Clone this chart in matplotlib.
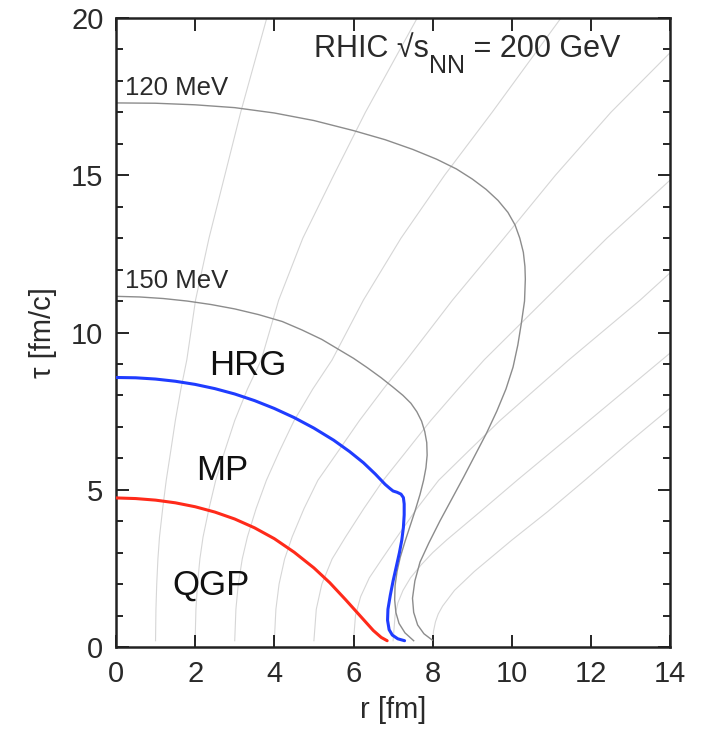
import matplotlib

matplotlib.use("Agg")
import matplotlib.pyplot as plt
from matplotlib.ticker import MultipleLocator

plt.rcParams["font.family"] = ["Liberation Sans", "DejaVu Sans"]

# fluid-cell trajectories, labelled by starting radius r0 [fm]
FLOW_R0 = [1, 2, 3, 4, 5, 6, 7, 8]
TAU_INNER = [0.2, 1.2, 2.0, 2.8, 3.5, 4.4, 5.3, 6.2, 7.2, 8.2, 9.13, 11.03, 13.0, 15.0, 17.0, 20.0]
flow_r1 = [1.0, 1.01, 1.03, 1.06, 1.1, 1.18, 1.27, 1.38, 1.5, 1.64, 1.79, 2.01, 2.35, 2.75, 3.15, 3.81]
flow_r2 = [2.0, 2.02, 2.06, 2.12, 2.2, 2.35, 2.52, 2.74, 3.0, 3.32, 3.67, 4.11, 4.72, 5.5, 6.3, 7.61]
flow_r3 = [3.0, 3.03, 3.09, 3.19, 3.32, 3.54, 3.8, 4.12, 4.5, 4.97, 5.46, 6.25, 7.2, 8.3, 9.5, 11.24]
flow_tau4 = [0.2, 1.2, 2.0, 2.8, 3.5, 4.4, 5.3, 6.2, 7.2, 8.2, 9.13, 11.03, 13.0, 15.0, 17.0, 18.9]
flow_r4 = [4.0, 4.04, 4.12, 4.26, 4.45, 4.75, 5.1, 5.6, 6.15, 6.75, 7.34, 8.5, 9.8, 11.1, 12.5, 14.0]
flow_tau5 = [0.2, 1.2, 2.0, 2.8, 3.5, 4.4, 5.3, 6.2, 7.2, 8.2, 9.13, 11.03, 13.0, 14.85]
flow_r5 = [5.0, 5.06, 5.2, 5.46, 5.8, 6.26, 6.75, 7.32, 7.95, 8.64, 9.3, 10.82, 12.4, 14.0]
flow_tau6 = [0.2, 1.0, 1.6, 2.2, 2.8, 3.5, 4.4, 5.3, 6.2, 7.2, 8.2, 9.13, 11.03, 11.9]
flow_r6 = [6.0, 6.05, 6.18, 6.4, 6.72, 7.1, 7.6, 8.15, 8.88, 9.7, 10.6, 11.44, 13.24, 14.0]
flow_tau7 = [0.2, 1.0, 1.4, 1.8, 2.2, 2.6, 3.0, 3.4, 4.3, 5.31, 7.2, 9.35]
flow_r7 = [7.0, 7.05, 7.12, 7.25, 7.44, 7.7, 8.0, 8.35, 9.2, 10.14, 11.95, 14.0]
flow_tau8 = [0.2, 0.5, 0.8, 1.05, 1.3, 1.8, 2.4, 3.4, 4.3, 5.31, 6.5, 7.6]
flow_r8 = [8.0, 8.02, 8.07, 8.14, 8.25, 8.55, 9.05, 10.0, 10.9, 11.85, 12.95, 14.0]

# isotherms T = 120 MeV and 150 MeV
iso120_r = [0, 1.0, 2.0, 3.0, 4.0, 5.0, 6.0, 6.8, 7.5, 8.1, 8.6, 9.0, 9.35, 9.65, 9.9,
            10.08, 10.2, 10.29, 10.33, 10.34, 10.32, 10.24, 10.15, 10.03, 9.85, 9.62, 9.36,
            9.07, 8.78, 8.48, 8.18, 7.9, 7.68, 7.55, 7.49, 7.52, 7.62, 7.78, 7.99]
iso120_tau = [17.3, 17.29, 17.24, 17.15, 16.98, 16.74, 16.42, 16.13, 15.82, 15.51, 15.2, 14.88,
              14.55, 14.2, 13.82, 13.42, 13.0, 12.55, 12.1, 11.7, 11.0, 10.3, 9.6, 8.9, 8.2,
              7.5, 6.8, 6.1, 5.4, 4.7, 4.0, 3.3, 2.7, 2.1, 1.55, 1.1, 0.7, 0.42, 0.22]
iso150_r = [0, 0.6, 1.2, 1.8, 2.4, 3.0, 3.6, 4.2, 4.7, 5.2, 5.6, 6.0, 6.35, 6.7, 7.0, 7.25,
            7.45, 7.6, 7.72, 7.8, 7.85, 7.86, 7.83, 7.77, 7.68, 7.56, 7.43, 7.3, 7.18, 7.1,
            7.05, 7.04, 7.07, 7.15, 7.3, 7.52]
iso150_tau = [11.15, 11.13, 11.08, 11.0, 10.89, 10.75, 10.57, 10.35, 10.08, 9.78, 9.48, 9.18,
              8.88, 8.56, 8.26, 8.0, 7.75, 7.48, 7.18, 6.85, 6.5, 6.1, 5.7, 5.3, 4.85, 4.35,
              3.85, 3.35, 2.85, 2.4, 1.95, 1.5, 1.1, 0.75, 0.45, 0.2]

# phase boundaries: HRG / MP (blue) and MP / QGP (red)
hrg_r = [0, 0.5, 1.0, 1.5, 2.0, 2.5, 3.0, 3.5, 4.0, 4.5, 5.0, 5.5, 5.9, 6.25, 6.55, 6.8,
         6.92, 7.0, 7.1, 7.2, 7.26, 7.28, 7.28, 7.26, 7.22, 7.16, 7.08, 7.0, 6.93, 6.87,
         6.86, 6.9, 6.98, 7.12, 7.29]
hrg_tau = [8.57, 8.56, 8.52, 8.45, 8.35, 8.215, 8.045, 7.835, 7.585, 7.295, 6.96, 6.575,
           6.215, 5.86, 5.5, 5.17, 5.04, 4.96, 4.92, 4.86, 4.75, 4.55, 4.2, 3.8, 3.4, 3.0,
           2.55, 2.1, 1.65, 1.2, 0.85, 0.55, 0.38, 0.26, 0.2]
qgp_r = [0, 0.5, 1.0, 1.5, 2.0, 2.5, 3.0, 3.5, 4.0, 4.5, 5.0, 5.4, 5.8, 6.2, 6.5, 6.7, 6.85]
qgp_tau = [4.74, 4.72, 4.67, 4.585, 4.46, 4.29, 4.07, 3.79, 3.445, 3.015, 2.515, 2.045,
           1.505, 0.945, 0.525, 0.305, 0.2]

flows = [
    (flow_r1, TAU_INNER), (flow_r2, TAU_INNER), (flow_r3, TAU_INNER),
    (flow_r4, flow_tau4), (flow_r5, flow_tau5), (flow_r6, flow_tau6),
    (flow_r7, flow_tau7), (flow_r8, flow_tau8),
]

fig = plt.figure(figsize=(7.07, 7.38), dpi=100)
ax = fig.add_axes([0.164, 0.1233, 0.784, 0.8523])

for r, tau in flows:
    ax.plot(r, tau, color="#d6d6d6", lw=0.8, zorder=1)

ax.plot(iso120_r, iso120_tau, color="#8c8c8c", lw=1.0, zorder=2)
ax.plot(iso150_r, iso150_tau, color="#8c8c8c", lw=1.0, zorder=2)
ax.plot(hrg_r, hrg_tau, color="#1f3cff", lw=2.2, zorder=3, solid_capstyle="round")
ax.plot(qgp_r, qgp_tau, color="#ff2a1a", lw=2.2, zorder=3, solid_capstyle="round")

txt = "#2a2a2a"
ax.text(0.23, 17.55, "120 MeV", fontsize=18.5, color=txt)
ax.text(0.23, 11.4, "150 MeV", fontsize=18.5, color=txt)
ax.text(2.35, 8.65, "HRG", fontsize=25, color="#111111")
ax.text(2.03, 5.31, "MP", fontsize=25, color="#111111")
ax.text(1.43, 1.65, "QGP", fontsize=25, color="#111111")

# "RHIC √s_NN = 200 GeV" built from pieces so the subscript can sit low and large
t1 = ax.text(5.0, 18.75, "RHIC √s", fontsize=22, color=txt)
t2 = ax.annotate("NN", xy=(1, 0), xycoords=t1, xytext=(0.5, -9.5), textcoords="offset points",
                 fontsize=18, color=txt, va="bottom")
ax.annotate(" = 200 GeV", xy=(1, 0), xycoords=t2, xytext=(0, 9.5), textcoords="offset points",
            fontsize=22, color=txt, va="bottom")

ax.set_xlim(0, 14)
ax.set_ylim(0, 20)
ax.set_xticks(range(0, 15, 2))
ax.set_yticks(range(0, 21, 5))
ax.yaxis.set_minor_locator(MultipleLocator(1))
ax.tick_params(which="both", direction="in", top=True, right=True, width=1.2,
               labelsize=21, labelcolor=txt, pad=9)
ax.tick_params(which="major", length=9)
ax.tick_params(which="minor", length=5)
for spine in ax.spines.values():
    spine.set_linewidth(1.8)
    spine.set_color("#222222")

ax.set_xlabel("r [fm]", fontsize=21, color=txt, labelpad=6)
ax.set_ylabel("τ [fm/c]", fontsize=21, color=txt, labelpad=10)

fig.savefig("out.png", dpi=100)
